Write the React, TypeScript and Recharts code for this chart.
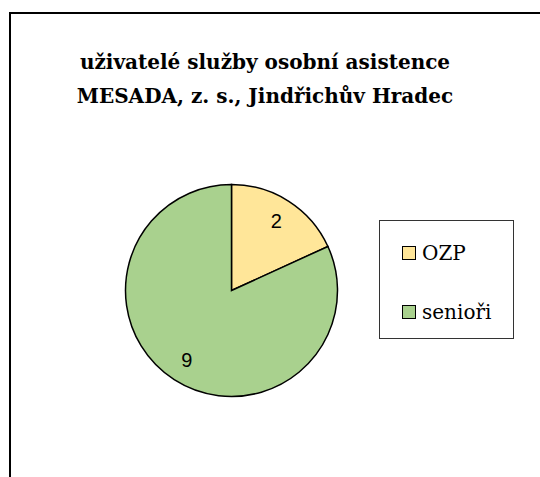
import { PieChart, Pie, Cell, Legend } from 'recharts'

const categories = ['OZP', 'senioři']
const counts = [2, 9]
const colors = ['#FFE699', '#A9D18E']
const titleLines = ['uživatelé služby osobní asistence', 'MESADA, z. s., Jindřichův Hradec']

const data = categories.map((name, i) => ({ name, value: counts[i] }))

const RADIAN = Math.PI / 180
const SERIF = "'DejaVu Serif', serif"

const renderLabel = ({ cx, cy, midAngle, outerRadius, value }: any) => {
  const r = outerRadius * 0.78
  const x = cx + r * Math.cos(-midAngle * RADIAN)
  const y = cy + r * Math.sin(-midAngle * RADIAN)
  return (
    <text x={x} y={y} textAnchor="middle" dominantBaseline="central"
      fill="#000" fontSize={20} fontFamily="'Liberation Sans', Arial, sans-serif">
      {value}
    </text>
  )
}

const LegendBox = () => (
  <div style={{
    width: 135, height: 119, border: '1px solid #333', background: '#fff',
    boxSizing: 'border-box', position: 'relative',
    fontFamily: SERIF, fontSize: 20, color: '#000',
  }}>
    {data.map((d, i) => (
      <div key={d.name} style={{
        position: 'absolute', left: 22, top: 19 + i * 59,
        display: 'flex', alignItems: 'center', height: 26,
      }}>
        <span style={{
          width: 12, height: 12, background: colors[i], border: '1.5px solid #000',
          display: 'inline-block', marginRight: 6,
        }} />
        <span>{d.name}</span>
      </div>
    ))}
  </div>
)

export default function App() {
  return (
    <div style={{ position: 'absolute', left: 0, top: 0, width: 540, height: 477, overflow: 'hidden', background: '#fff' }}>
      <div style={{
        position: 'absolute', left: 9, top: 12, width: 700, height: 700,
        borderLeft: '2px solid #000', borderTop: '2px solid #000',
      }} />
      <div style={{
        position: 'absolute', left: 0, width: 530, top: 45, textAlign: 'center',
        fontFamily: SERIF, fontWeight: 700, fontSize: 20, lineHeight: '34px', color: '#000',
      }}>
        {titleLines.map((t) => <div key={t}>{t}</div>)}
      </div>
      <div style={{ position: 'absolute', left: 0, top: 0 }}>
        <PieChart width={540} height={477} margin={{ top: 0, right: 0, bottom: 0, left: 0 }}>
          <Pie
            data={data} dataKey="value" nameKey="name"
            cx={231.5} cy={290.5} outerRadius={106}
            startAngle={90} endAngle={-270}
            stroke="#000" strokeWidth={1.5}
            label={renderLabel} labelLine={false}
            isAnimationActive={false}
          >
            {data.map((d, i) => <Cell key={d.name} fill={colors[i]} />)}
          </Pie>
          <Legend
            content={<LegendBox />}
            layout="vertical"
            wrapperStyle={{ position: 'absolute', left: 379, top: 220, width: 135, height: 119 }}
          />
        </PieChart>
      </div>
    </div>
  )
}
